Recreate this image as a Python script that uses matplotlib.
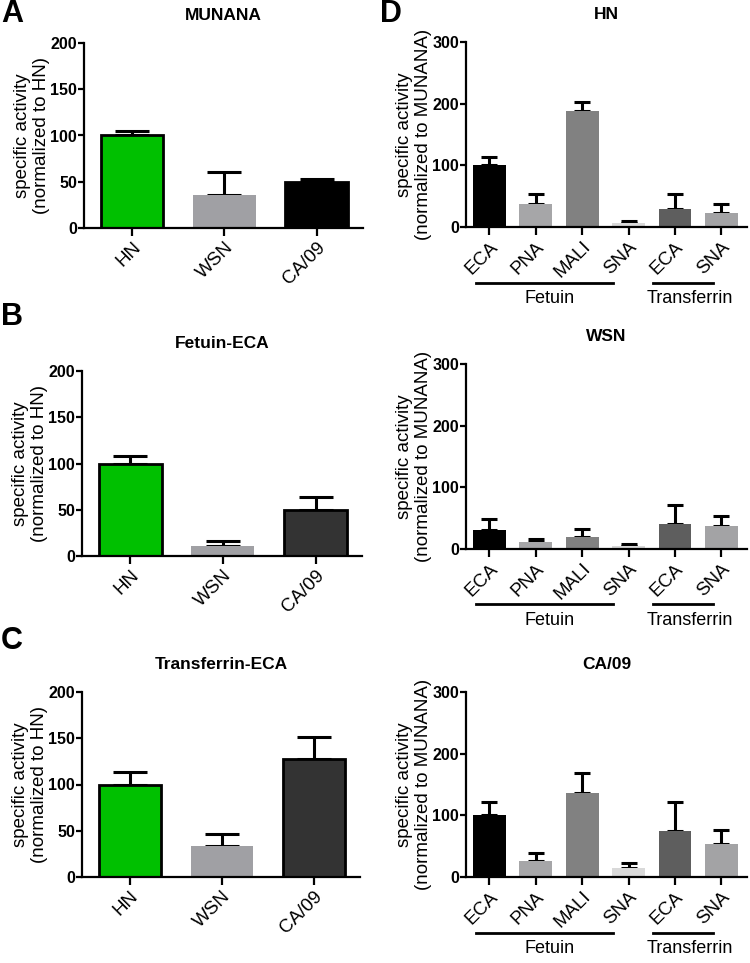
import matplotlib
matplotlib.use("Agg")
import matplotlib.pyplot as plt

plt.rcParams["font.family"] = ["Liberation Sans", "DejaVu Sans"]

# panels A-C: strains
strains = ["HN", "WSN", "CA/09"]
munana_mean = [100, 36, 50]
munana_err = [5, 24, 3]
fetuin_eca_mean = [100, 11, 50]
fetuin_eca_err = [8, 5, 14]
transferrin_eca_mean = [100, 34, 128]
transferrin_eca_err = [13, 13, 23]

# panel D: lectins
lectins = ["ECA", "PNA", "MALI", "SNA", "ECA", "SNA"]
hn_mean = [100, 38, 188, 7, 29, 22]
hn_err = [14, 16, 14, 2, 24, 15]
wsn_mean = [31, 11, 19, 5, 40, 37]
wsn_err = [17, 6, 13, 3, 31, 16]
ca09_mean = [100, 26, 136, 15, 75, 54]
ca09_err = [22, 13, 32, 8, 46, 23]

W, H = 750, 963
fig = plt.figure(figsize=(W / 100, H / 100), dpi=100)


def px_axes(l, r, t, b):
    return fig.add_axes([l / W, 1 - b / H, (r - l) / W, (b - t) / H])


def letter(s, x, y):
    fig.text(x / W, 1 - y / H, s, ha="left", va="center", fontsize=22, fontweight="bold")


def style(ax, ymax, step, title, label_x):
    ax.set_ylim(0, ymax)
    ax.set_yticks(range(0, ymax + 1, step))
    for s in ["top", "right"]:
        ax.spines[s].set_visible(False)
    for s in ["left", "bottom"]:
        ax.spines[s].set_linewidth(1.6)
    ax.tick_params(axis="y", direction="out", length=4, width=1.6, labelsize=11.5, pad=1)
    ax.tick_params(axis="x", direction="out", length=6, width=1.6, labelsize=13.5, pad=2)
    for lab in ax.get_yticklabels():
        lab.set_fontweight("bold")
    for lab in ax.get_xticklabels():
        lab.set_rotation(45)
        lab.set_ha("right")
        lab.set_va("top")
        lab.set_rotation_mode("anchor")
    ax.text(0.5, 1.15, title, transform=ax.transAxes, ha="center", va="center",
            fontsize=12.5, fontweight="bold")
    ax.yaxis.set_label_coords(label_x, 0.5)


def strain_panel(ax, mean, err, colors, edges, title):
    x = range(len(strains))
    ax.bar(x, mean, width=0.68, color=colors, edgecolor=edges, linewidth=2, zorder=2)
    ax.errorbar(x, mean, yerr=[[0] * len(err), err], fmt="none", ecolor="black",
                elinewidth=2.2, capsize=12, capthick=2.2, zorder=1)
    ax.set_xlim(-0.52, 2.5)
    ax.set_xticks(list(x))
    ax.set_xticklabels(strains)
    ax.set_ylabel("specific activity\n(normalized to HN)", fontsize=13.5, linespacing=1.15)
    style(ax, 200, 50, title, -0.122)


d_colors = ["#000000", "#a6a6a8", "#818181", "#d9d9d9", "#5e5e5e", "#a3a3a5"]


def lectin_panel(ax, mean, err, title):
    x = range(len(lectins))
    ax.bar(x, mean, width=0.71, color=d_colors, zorder=2)
    ax.errorbar(x, mean, yerr=[[0] * len(err), err], fmt="none", ecolor="black",
                elinewidth=2.2, capsize=5.5, capthick=2.2, zorder=1)
    ax.set_xlim(-0.5, 5.55)
    ax.set_xticks(list(x))
    ax.set_xticklabels(lectins)
    ax.set_ylabel("specific activity\n(normalized to MUNANA)", fontsize=13.5, linespacing=1.15)
    style(ax, 300, 100, title, -0.12)
    tr = ax.get_xaxis_transform()
    ax.plot([-0.29, 2.66], [-0.30, -0.30], color="black", lw=2, transform=tr, clip_on=False)
    ax.plot([3.52, 4.82], [-0.30, -0.30], color="black", lw=2, transform=tr, clip_on=False)
    ax.text(1.3, -0.385, "Fetuin", transform=tr, ha="center", va="center", fontsize=13)
    ax.text(4.32, -0.385, "Transferrin", transform=tr, ha="center", va="center", fontsize=13)


green = "#00c000"
grey = "#a0a0a4"

ax_a = px_axes(84, 363, 43, 228)
strain_panel(ax_a, munana_mean, munana_err, [green, grey, "#000000"],
             ["black", "none", "black"], "MUNANA")
ax_b = px_axes(82, 362, 371, 556)
strain_panel(ax_b, fetuin_eca_mean, fetuin_eca_err, [green, grey, "#333333"],
             ["black", "none", "black"], "Fetuin-ECA")
ax_c = px_axes(82, 360, 692, 877)
strain_panel(ax_c, transferrin_eca_mean, transferrin_eca_err, [green, grey, "#333333"],
             ["black", "none", "black"], "Transferrin-ECA")

ax_d1 = px_axes(466, 747, 42, 227)
lectin_panel(ax_d1, hn_mean, hn_err, "HN")
ax_d2 = px_axes(466, 747, 364, 549)
lectin_panel(ax_d2, wsn_mean, wsn_err, "WSN")
ax_d3 = px_axes(466, 747, 692, 877)
lectin_panel(ax_d3, ca09_mean, ca09_err, "CA/09")

letter("A", 1, 14)
letter("B", 1, 317)
letter("C", 1, 641)
letter("D", 380, 14)

fig.savefig("out.png", dpi=100)
